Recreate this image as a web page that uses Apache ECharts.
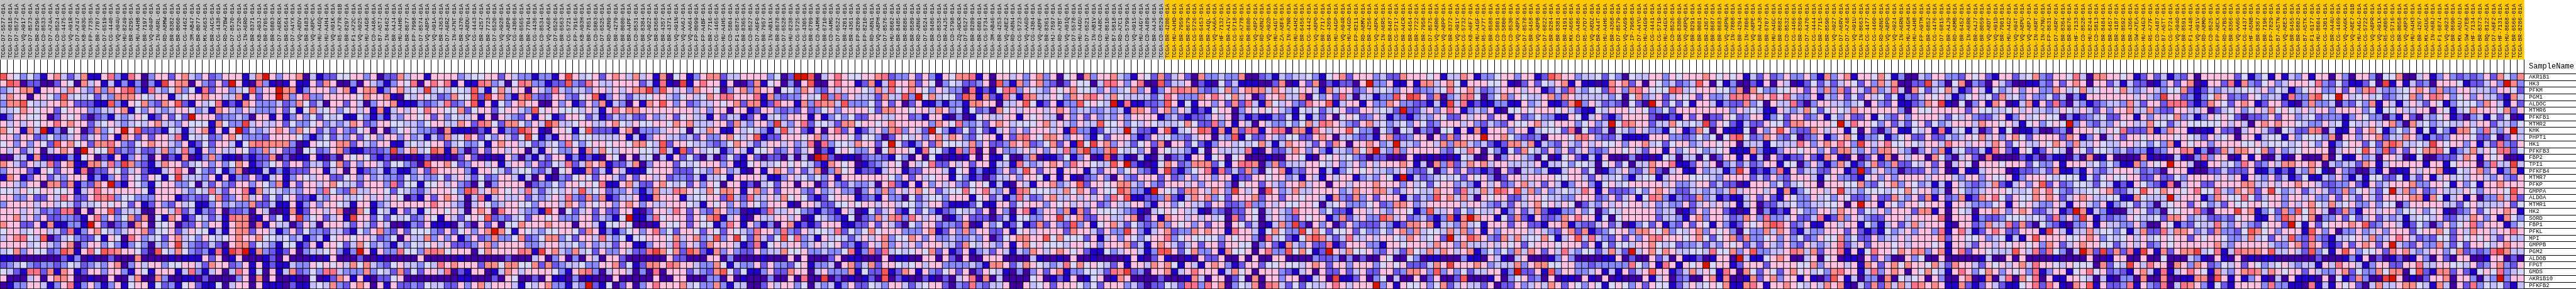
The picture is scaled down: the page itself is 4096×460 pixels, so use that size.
<!DOCTYPE html>
<html><head><meta charset="utf-8">
<style>html,body{margin:0;padding:0;background:#fff}#c{width:4096px;height:460px}</style>
<script src="https://cdn.jsdelivr.net/npm/echarts@6/dist/echarts.min.js"></script>
</head><body><div id="c"></div>
<script>
const genes=['AKR1B1','HK3','PFKM','PGM1','ALDOC','MTMR6','PFKFB1','MTMR2','KHK','PHPT1','HK1','PFKFB3','FBP2','TPI1','PFKFB4','MTMR7','PFKP','GMPPA','ALDOA','MTMR1','HK2','SORD','FBP1','PFKL','MPI','GMPPB','PGM2','ALDOB','FPGT','GMDS','AKR1B10','PFKFB2'];
const groupSizes=[173,202];
const ids0='D7-5577 D7-6818 D7-8572 VQ-A917 D7-8573 BR-8296 CD-8533 D7-A74A CD-8524 CG-4475 VQ-A91R D7-A747 KB-A93G FP-7735 BR-7707 D7-6519 CG-4440 VQ-A94U HU-8249 BR-8295 HU-A4HB BR-7197 VQ-A94P IN-A6RL RD-A8MW BR-8382 BR-8060 CG-4462 3M-AB47 BR-8077 MX-A663 BR-A4CS CG-4438 RD-A7BW D7-8570 CG-5720 IN-A6RO BR-8371 KB-A93J BR-6705 BR-6803';
const ids1='D7-A6RX BR-6564 D7-A4YX VQ-A8DV BR-8483 VQ-A8PC HU-A4GQ HU-A4H4 VQ-A91K R5-A77R-01B BR-8297 F1-A72C VQ-A925 HU-A4G8 CD-A48A B7-A5TJ IN-8462 BR-A4J4 HU-A4H0 BR-8677 FP-7998 D7-8574 VQ-A8P5 VQ-A91A BR-4363 D7-A6RZ IN-A7NT BR-4370 VQ-A8DU CG-4443 BR-4257 BR-7723 D7-6520 VQ-A928 VQ-A8P8 CG-4306 BR-6565 BR-7704 CG-4436 CD-8534 VQ-AA68';
const ids2='D7-6526 BR-6563 CG-5721 FP-7916 KB-A93H BR-7851 CD-5803 D7-6525 RD-A8N9 BR-4279 BR-8080 BR-A4PF CD-8531 BR-8384 VQ-A922 BR-8368 BR-4357 BR-4371 VQ-A91N VQ-AA6J VQ-AA64 FP-8099 FP-A4BF BR-7716 CG-4465 HU-A4H5 CD-5804 F1-6875 BR-8365 CD-8527 D7-A6F0 BR-7957 IN-AB1X BR-8678 D7-6528 HU-8238 CG-5725 CG-4305 BR-6709 CD-A4MH BR-6710';
const ids3='CD-A4MG D7-6522 BR-4201 BR-4361 FP-8209 FP-8210 RD-A8N1 VQ-A8PH D7-8576 HU-8602 BR-8485 BR-8686 BR-8589 RD-A8N6 D7-6524 BR-8486 CD-8535 BR-A4J5 CD-5798 ZQ-A9CR D7-6527 BR-8289 BR-6801 CG-5734 3M-AB46 BR-4253 VQ-A8E2 RD-A8N4 CG-5723 VQ-AA6D CG-4304 VQ-A8PF BR-8361 HJ-7597 RD-A7BT VQ-A91Q D7-5578 HU-A4GU D7-6521 IN-AB1V CD-A48C';
const ids4='HU-8610 B7-5818 RD-A7C1 CD-5799 VQ-A91S HU-A4GY CD-A489 BR-A4J6 CD-8529 BR-4280 HU-A4HD BR-7959 BR-8679 CG-5726 BR-6453 BR-A4QL VQ-AA6A HF-7132 BR-A4IV CG-5718 R5-A77B BR-8680 VQ-A8P2 RD-A8N2 VQ-A92D HU-A4GT ZA-A8F6 IN-A7NR HU-A4H2 BR-6456 CG-4442 VQ-A8PO BR-7717 BR-4369 HU-A4GP VQ-A94R HU-A4GD FP-8211 RD-A8MV BR-4256 VQ-A8PK';
const ids5='IN-A6RS BR-8487 CG-5717 BR-A4CR BR-6454 BR-7722 BR-7958 D7-8575 VQ-A8R0 VQ-A8PP BR-8372 VQ-A91Y CG-5732 KB-A6F7 HU-A4GF R5-A77T BR-8588 CD-5801 CD-5800 CD-8530 VQ-A8PX D7-8578 BR-6458 VQ-A8PB D7-6822 BR-8284 BR-8381 BR-4191 MX-A666 CD-A486 R5-A7O7 VQ-A8DZ BR-A44T HU-A4H6 BR-4368 D7-8579 VQ-AA69 IP-7968 D7-A4YU HU-A4G9 CG-4441';
const ids6='CG-5719 HU-A4GX CD-8526 BR-8380 VQ-A8PQ BR-8291 BR-8081 BR-4367 BR-8687 BR-8683 VQ-A8PN IN-7808 BR-4294 IN-7806 VQ-A8PE BR-A4J8 BR-6707 HU-A4GC BR-8682 CD-8532 CG-4466 BR-8369 D7-A470 CG-4444 BR-7715 BR-8590 VQ-A927 D7-A6RV D7-A748 VQ-A91U IN-8663 CG-4477 CG-4460 RD-A8N5 VQ-A8PD VQ-A924 IN-A6RN HU-A4GH HU-A4H8 FP-A9TM BR-6852';
const ids7='CG-4476 D7-6815 BR-A4J9 RD-A8MB BR-6452 IN-A6RR BR-A4J7 BR-8059 VQ-A8DT VQ-A91D BR-7901 HU-A4G2 VQ-A94T VQ-A8PU VQ-A8PJ IN-A6RT IN-A7NU FP-8631 D7-A6RY BR-8364 BR-8676 HF-7133 CD-8528 HU-8244 CD-5813 BR-8484 BR-6457 BR-4187 BR-8592 BR-4366 SW-A7EA HU-A4G3 R5-A77F CD-A487 B7-A5TT CG-5724 VQ-A94O BR-8591 F1-A448 VQ-A91V RD-A8MO';
const ids8='CD-8525 FP-A8CX RD-A7BS BR-8366 VQ-AA6G CG-4437 HF-A5NB BR-8367 BR-7196 FP-7829 B7-A5TN VQ-A8E3 BR-6455 BR-6802 B7-A5TK F1-6177 HU-8604 CG-4301 BR-A44U CG-4469 VQ-AA6K VQ-A8E7-01B HU-A4GJ CG-5722 VQ-A8PR VQ-A91X R5-A805 CG-5716 BR-8058 VQ-A8P3 HU-A4H3 BR-4267 MX-A5UG IN-A6RJ F1-6874 VQ-A923 BR-8690 MX-A5UJ SW-A7EB HF-7134 BR-8373';
const ids9='RQ-8122 D7-A6F2 HF-7131 HU-8608 BR-6566 BR-8286';

// colour level of each cell, 0 (dark blue) ... b (red); one string per gene row, one array per run of columns
const heat0=[
"9 6 5 3 5 3 1 6 7 4 2 4 7 1 1 6 8 3 1 8 6 0 3 6 6 2 6 7 4 3 6 2 3 6 6 6 1 4 7 b 6",
"6 9 8 0 2 2 0 0 2 6 5 0 7 4 6 1 4 1 3 1 3 0 3 1 a 6 7 7 0 6 3 2 6 2 b 6 1 0 8 3 1",
"3 4 6 7 7 1 6 6 6 4 7 6 4 3 7 3 7 6 8 9 3 1 8 4 3 5 7 3 5 1 8 2 6 6 3 4 5 9 3 6 6",
"4 7 6 6 0 6 6 5 3 9 4 5 4 5 2 4 3 7 7 7 6 5 4 6 6 1 4 5 6 6 7 6 6 4 4 7 1 6 2 6 6",
"3 7 7 9 5 4 4 6 6 7 6 2 2 2 1 1 9 3 1 6 5 7 3 2 7 6 9 2 1 6 4 5 8 1 2 1 7 6 3 3 3",
"4 4 5 7 6 5 6 6 2 5 6 6 6 3 3 4 4 6 7 1 5 3 6 4 3 4 6 6 5 3 4 1 7 6 4 3 6 4 3 3 3",
"1 3 6 6 5 5 6 0 2 6 5 6 2 0 2 3 1 4 3 4 6 5 1 2 6 2 5 2 b 6 6 6 2 3 3 4 3 0 6 6 1",
"6 4 6 4 6 5 6 6 8 6 7 6 6 2 4 5 6 4 3 4 5 4 6 7 4 4 3 6 5 5 5 1 7 5 3 3 a 4 6 4 4",
"7 5 6 1 7 4 b 1 3 0 5 6 0 2 7 3 5 6 b 6 9 2 2 2 1 5 4 1 4 6 7 1 6 1 6 b 2 4 3 4 6",
"6 6 3 6 6 2 3 5 3 3 4 6 2 4 6 3 6 1 7 6 2 6 2 6 6 4 8 1 5 4 5 2 3 6 7 5 3 3 3 2 6",
"5 6 3 6 3 6 5 2 9 6 7 5 6 2 7 7 8 6 3 2 5 6 7 6 6 4 3 6 1 2 5 2 6 6 4 1 5 7 8 7 7",
"6 4 6 2 4 6 0 4 6 7 6 0 b 6 5 5 9 2 3 2 4 2 2 4 7 3 4 8 3 1 6 3 6 4 4 6 5 2 3 7 4",
"0 0 4 4 1 7 1 0 1 1 3 1 5 6 0 2 1 6 1 3 6 3 0 6 0 2 1 7 0 1 3 7 3 1 1 0 2 1 2 2 7",
"7 6 4 2 6 4 4 8 2 6 7 1 1 7 7 4 8 3 a 7 3 2 1 4 7 6 6 2 4 5 6 3 6 3 5 7 6 1 2 3 5",
"3 6 6 6 2 1 6 5 2 6 6 1 8 0 2 2 6 5 2 4 6 2 1 1 4 6 8 6 0 5 3 2 5 1 3 7 0 1 1 4 1",
"1 7 6 1 2 6 6 2 4 3 6 6 6 1 3 1 3 6 2 6 5 2 6 5 1 5 a 4 4 4 3 6 1 6 1 3 2 6 2 1 4",
"6 6 4 3 6 6 0 7 7 2 7 1 3 2 7 6 b 2 1 6 5 3 1 5 6 6 3 3 5 0 4 2 6 3 2 6 6 3 6 5 3",
"5 5 4 6 5 5 6 6 5 5 6 1 4 6 8 6 6 6 6 6 6 5 1 6 6 6 6 4 3 5 4 8 4 2 6 6 8 1 7 4 5",
"6 6 3 3 6 2 2 6 4 8 6 2 2 6 8 7 8 3 5 5 3 3 3 6 6 6 1 2 3 2 2 5 7 2 3 6 7 4 6 2 5",
"3 6 6 6 6 4 6 6 4 5 4 2 4 4 5 6 5 6 5 2 6 1 2 6 3 2 6 4 5 1 1 3 6 3 4 3 3 7 2 2 4",
"6 6 6 4 6 4 2 3 2 8 8 0 6 0 6 6 9 2 4 4 4 0 0 6 6 4 8 2 4 1 3 2 6 0 2 2 3 0 6 4 0",
"6 6 7 4 6 3 6 2 2 3 3 2 1 6 8 3 6 3 5 7 2 7 0 5 1 7 6 1 2 5 4 2 4 1 8 7 7 0 1 6 2",
"7 6 6 2 2 6 1 7 1 1 3 3 1 b 6 2 0 2 3 0 7 6 0 5 5 6 0 2 2 6 3 6 6 1 6 7 7 0 8 1 6",
"5 6 6 4 5 6 6 4 4 2 8 1 3 6 7 5 4 3 4 6 6 7 2 5 5 6 2 4 6 5 5 1 4 1 6 7 7 2 6 6 4",
"4 6 7 8 5 4 9 0 2 4 5 3 2 2 5 1 6 5 0 8 6 3 4 5 2 6 7 4 5 3 6 5 4 5 6 7 6 6 7 5 5",
"6 6 6 6 4 5 6 4 3 6 7 0 3 6 6 3 5 3 1 3 5 3 0 4 3 6 a 4 3 2 2 4 2 0 6 7 7 2 5 4 3",
"4 5 7 3 6 5 5 2 3 9 7 1 6 8 5 9 8 7 6 6 5 2 0 9 5 4 7 5 3 2 3 1 8 1 a 8 b 1 7 3 2",
"1 1 0 0 0 0 0 0 0 2 1 3 0 1 0 0 2 0 0 0 7 0 0 0 0 1 0 1 1 1 6 2 6 0 1 6 0 0 0 1 2",
"2 3 4 5 3 2 3 3 2 3 5 4 2 3 4 3 6 7 0 3 6 4 6 6 3 5 5 6 6 4 2 7 6 6 2 3 6 1 6 1 2",
"5 4 2 1 8 8 2 7 1 7 6 1 2 6 6 3 6 6 3 1 6 5 1 6 6 6 1 4 8 3 1 4 6 0 4 8 6 1 5 0 6",
"6 0 0 0 4 6 0 6 7 7 6 0 0 1 0 0 6 0 0 4 7 0 0 7 3 0 0 1 1 0 2 0 0 0 0 3 6 0 7 0 6",
"0 1 3 3 6 6 4 1 3 6 8 1 3 6 3 1 3 6 1 5 6 6 1 5 2 3 1 5 6 2 1 1 5 0 4 6 6 0 6 1 1"];
const heat1=[
"3 6 6 7 0 4 1 2 2 5 5 6 6 3 6 0 2 2 7 4 6 6 1 6 6 6 6 3 4 5 5 6 6 2 6 4 3 3 1 3 3",
"0 1 6 1 1 6 2 7 6 0 0 3 0 6 4 3 1 3 6 5 8 0 6 8 6 8 1 6 1 1 8 7 3 4 0 5 8 7 3 3 1",
"b 7 7 1 3 6 6 6 3 6 7 1 6 7 7 1 3 6 7 4 5 4 a 4 5 4 5 5 4 9 4 1 5 7 4 6 6 0 6 4 3",
"b 7 3 6 8 3 3 6 6 6 6 6 5 7 6 6 7 1 0 5 4 6 5 4 2 3 7 5 5 9 2 a 6 7 3 1 7 9 3 2 2",
"4 2 3 7 5 2 4 0 6 6 2 6 4 0 3 6 6 7 1 1 1 3 2 3 4 8 2 3 6 9 1 6 1 5 3 6 7 6 6 0 0",
"6 2 5 1 5 7 4 5 6 3 5 6 4 6 1 7 1 4 6 4 6 5 8 6 6 5 5 7 2 5 6 6 2 5 6 6 4 3 9 5 6",
"6 1 3 6 3 5 2 5 4 5 1 1 5 3 1 3 1 4 3 6 6 5 6 2 6 3 5 4 4 6 1 6 0 6 4 3 2 6 1 6 5",
"6 2 5 3 3 5 6 3 4 3 4 7 6 2 3 6 6 5 5 4 4 3 5 6 6 4 4 7 6 2 8 7 5 2 7 7 5 3 6 4 a",
"7 6 3 7 5 6 2 4 2 6 3 2 5 6 0 6 0 3 5 6 4 3 3 2 0 7 1 1 1 0 2 1 6 1 3 2 a 8 6 1 0",
"6 6 6 5 3 1 3 5 2 4 3 6 2 5 6 3 6 6 3 6 3 4 1 4 2 7 4 5 8 6 2 5 3 6 4 2 5 a 5 1 3",
"7 7 3 0 1 6 5 5 6 7 7 2 6 4 3 6 6 1 1 4 5 4 5 6 6 2 4 5 3 3 5 1 6 7 6 6 4 5 2 3 4",
"6 2 2 0 5 5 2 3 6 7 2 1 1 2 2 2 3 a 3 6 7 4 5 9 7 1 7 3 0 2 6 2 6 6 4 6 6 0 4 1 6",
"0 2 0 1 1 6 1 0 2 0 6 5 6 5 2 1 2 0 0 1 0 1 2 0 0 1 0 2 6 2 0 1 0 1 6 3 0 3 1 4 2",
"6 2 6 6 2 4 4 2 5 7 2 6 3 6 6 4 2 5 5 3 2 0 9 6 6 7 5 2 3 6 6 4 6 1 4 6 6 3 6 2 2",
"3 1 2 2 2 6 6 1 4 6 0 6 1 2 3 4 1 3 1 1 3 6 2 8 6 6 6 6 3 1 6 6 5 4 2 4 5 5 3 2 4",
"6 1 3 6 5 4 6 6 2 2 5 6 3 6 3 4 3 3 2 5 3 4 3 3 5 2 4 6 4 2 5 2 3 6 6 4 1 4 0 6 1",
"7 1 6 2 6 6 4 6 7 5 4 4 2 6 6 6 3 8 2 5 5 1 5 5 6 4 6 3 2 0 5 0 3 6 6 6 6 0 2 3 3",
"4 3 4 3 6 6 3 8 5 3 2 7 4 4 6 6 5 2 5 4 3 2 4 6 6 6 5 3 9 8 4 6 7 6 5 6 4 8 4 2 4",
"2 5 6 2 2 1 4 3 6 6 4 4 5 6 4 6 4 6 5 0 2 1 6 2 6 7 6 4 0 4 8 1 4 6 4 4 6 2 4 3 4",
"1 1 6 1 3 6 3 6 6 5 4 1 6 6 1 3 4 6 6 6 6 6 6 8 6 6 4 3 0 4 6 5 3 4 6 6 5 5 3 6 6",
"0 1 7 1 2 6 6 4 6 7 0 0 7 5 1 5 4 1 6 2 4 1 5 6 6 5 6 4 0 6 7 6 0 8 6 6 4 3 3 1 a",
"5 1 6 a 3 5 6 2 4 6 1 a 6 6 2 5 2 5 4 5 2 3 6 5 1 6 4 2 5 6 5 9 2 3 2 4 5 2 6 6 5",
"4 4 0 2 6 4 0 6 6 6 4 2 6 4 2 6 4 0 0 1 3 2 6 1 1 1 0 4 2 0 6 2 6 0 5 5 7 6 6 6 7",
"1 3 6 2 5 3 3 2 4 4 2 1 5 3 6 7 3 2 6 2 5 5 5 3 2 6 2 5 6 3 6 7 b 7 5 1 6 5 4 3 5",
"4 5 3 4 1 3 4 1 5 6 6 5 6 6 4 2 3 5 0 6 4 4 7 3 6 3 6 1 3 6 2 3 7 3 3 5 7 2 3 5 7",
"1 5 5 1 2 6 1 6 6 5 2 4 7 5 3 4 3 1 4 3 5 4 5 6 4 6 2 2 2 3 6 7 3 6 6 6 6 3 3 4 6",
"1 2 6 0 3 4 4 5 6 3 1 3 b 6 1 6 3 3 8 5 5 3 7 8 7 5 6 6 6 0 5 7 6 6 6 6 8 7 1 a 6",
"0 6 0 0 0 1 0 1 6 0 0 0 2 0 0 1 0 0 0 0 0 6 0 0 0 0 0 1 0 0 0 0 0 0 2 0 0 0 4 6 0",
"1 1 4 3 3 6 5 6 5 6 4 7 5 7 4 3 2 5 6 4 4 3 5 4 8 6 7 6 6 6 2 7 7 5 7 7 5 5 7 2 7",
"1 4 7 2 3 5 3 8 8 4 3 3 3 7 3 5 4 2 7 2 5 2 6 6 4 8 0 2 1 6 6 0 1 4 7 6 4 6 6 6 6",
"0 0 1 0 0 5 0 1 2 7 6 1 6 1 0 2 2 5 6 0 0 0 0 0 0 0 0 1 1 0 0 0 2 0 6 5 0 0 2 0 6",
"1 0 2 1 1 4 5 4 7 3 2 6 7 6 0 6 1 6 2 2 3 2 5 4 4 2 2 6 3 6 7 4 6 6 6 4 1 5 4 6 7"];
const heat2=[
"1 6 a 6 4 5 6 2 6 7 6 4 7 4 6 1 7 0 5 6 1 3 6 7 7 2 4 4 6 6 6 6 3 5 0 2 b b 9 0 4",
"2 2 9 3 2 8 6 4 4 6 6 6 6 2 4 1 8 1 0 a 1 6 8 6 6 1 6 0 0 2 7 1 5 6 0 3 0 6 9 0 0",
"8 4 3 4 4 3 6 6 4 6 4 6 7 7 a 3 9 6 4 6 3 7 6 6 5 0 3 6 7 3 7 6 6 0 5 5 3 7 6 3 2",
"6 6 3 2 5 6 9 1 3 6 4 2 4 4 5 6 6 4 3 5 6 4 5 7 6 8 8 6 6 6 8 1 7 3 2 3 3 6 4 5 a",
"6 3 6 1 2 6 3 7 1 4 3 0 6 1 7 6 9 6 3 6 2 3 4 4 6 5 6 7 2 7 7 1 2 8 6 6 1 7 3 8 7",
"6 5 5 5 4 6 4 1 6 8 6 7 7 6 6 6 6 6 6 6 6 4 6 3 6 6 0 6 6 1 2 6 6 3 2 3 2 6 2 3 5",
"1 2 6 6 5 2 4 1 2 4 3 4 2 2 6 3 4 6 2 5 6 4 4 1 6 2 4 4 1 2 6 1 4 5 3 6 6 6 1 6 1",
"7 4 4 5 6 6 4 4 6 7 5 4 6 5 5 6 6 5 7 6 7 4 4 4 6 6 2 7 4 3 6 6 3 a 4 3 6 8 2 5 5",
"6 6 5 1 5 9 2 2 2 1 6 7 0 3 3 3 4 6 6 5 0 5 4 7 6 1 1 6 4 5 4 3 1 4 9 4 6 2 1 6 0",
"1 6 6 3 5 5 4 4 4 4 6 1 4 1 3 6 6 4 4 3 4 2 6 3 3 6 7 5 4 6 9 1 2 2 6 6 6 5 6 7 3",
"5 3 8 5 3 5 6 6 5 6 6 5 7 7 5 4 9 2 6 6 5 4 4 3 2 3 5 7 6 4 2 4 6 6 4 6 3 4 8 0 8",
"5 3 3 6 1 7 4 7 5 4 6 6 6 5 5 4 9 4 1 9 2 6 4 5 5 1 3 6 4 1 5 5 6 2 3 6 2 4 6 0 2",
"6 6 1 3 1 2 1 0 6 5 0 6 0 4 5 0 4 1 6 2 5 2 0 4 0 2 5 2 1 6 2 0 2 2 0 4 0 4 0 b a",
"5 4 8 2 4 7 6 7 1 2 2 4 7 0 3 6 6 6 2 5 4 5 6 6 6 3 6 1 1 5 6 4 4 5 6 5 6 5 4 2 1",
"0 5 6 1 1 7 2 4 1 6 4 1 1 1 5 6 6 6 2 2 2 5 4 3 7 6 3 4 1 0 6 1 6 7 6 3 6 2 4 7 0",
"0 3 2 5 6 5 2 6 6 4 2 6 2 6 6 4 6 2 3 3 2 4 1 4 4 5 1 6 6 6 6 4 1 1 3 6 4 5 3 5 3",
"5 3 6 6 5 6 5 8 1 1 6 7 4 2 2 6 7 5 4 5 2 6 3 6 5 0 6 6 1 2 0 4 5 2 6 6 0 6 6 0 2",
"5 4 6 4 9 4 5 6 2 3 3 6 3 1 3 7 4 4 8 7 6 5 4 7 5 7 7 6 1 6 7 3 6 2 6 6 6 3 2 6 3",
"6 4 8 3 2 7 3 7 1 2 4 4 6 1 1 7 6 6 6 1 4 5 5 6 6 2 9 4 2 8 4 4 6 4 7 5 6 5 2 1 2",
"6 4 7 6 3 6 5 6 6 3 6 7 6 3 6 4 4 6 6 6 5 4 1 6 5 6 3 6 3 6 5 3 6 6 6 1 0 6 6 4 2",
"6 0 5 2 4 6 2 6 2 2 6 6 1 0 2 6 6 4 8 6 2 6 3 2 7 6 3 3 0 1 1 2 8 4 4 6 5 3 2 1 3",
"6 3 3 3 6 6 2 4 3 1 5 b 1 1 3 8 5 6 6 6 2 6 5 7 9 1 4 6 1 0 6 4 4 6 6 4 6 0 1 5 4",
"6 6 6 0 6 6 4 1 5 5 6 5 0 0 0 1 6 5 5 6 2 6 5 5 1 3 8 6 1 6 3 1 3 0 6 7 1 2 1 2 6",
"5 6 6 5 2 7 6 1 3 1 3 5 6 3 6 8 3 5 2 6 6 5 2 6 5 2 6 5 4 3 8 6 6 3 8 3 2 6 4 5 5",
"7 3 5 2 6 6 4 8 4 3 5 1 5 5 6 6 6 5 7 4 6 7 3 4 9 3 6 a 5 2 7 4 2 5 9 5 8 3 4 1 6",
"6 4 4 5 3 6 3 4 4 2 6 6 1 1 3 6 6 4 8 3 6 4 2 7 6 6 6 4 1 2 8 1 5 6 4 6 6 3 4 6 4",
"7 4 3 7 4 5 2 6 3 3 6 4 2 2 8 a 7 5 7 2 9 7 2 1 7 3 6 3 2 2 6 3 4 4 7 5 5 6 3 3 4",
"3 6 0 3 0 6 4 0 6 6 2 0 0 0 0 0 0 6 2 2 0 0 0 6 6 0 3 0 0 0 0 1 0 0 0 6 0 6 0 0 0",
"2 3 4 4 5 3 3 6 6 7 2 5 1 2 7 7 6 8 7 6 6 4 3 3 7 5 1 4 3 3 6 2 6 3 3 2 5 6 1 3 3",
"5 3 1 6 7 8 3 0 4 6 6 4 0 3 0 8 0 6 6 6 2 4 3 2 7 9 5 2 5 1 1 3 6 2 2 7 6 6 0 4 6",
"1 1 0 3 0 1 0 0 0 6 0 0 0 0 0 6 0 0 6 6 0 0 0 3 3 0 6 0 1 0 0 0 3 0 0 6 0 8 0 0 a",
"3 3 1 4 3 b 2 1 5 0 2 6 0 3 6 8 6 6 6 7 4 5 3 3 7 3 1 4 4 0 0 2 6 4 6 6 3 5 0 4 3"];
const heat3=[
"6 8 6 5 5 6 6 7 8 2 3 3 6 2 6 3 1 6 5 7 7 8 1 6 0 6 6 4 6 3 6 7 3 6 0 5 6 0 7 3 6",
"6 8 6 6 1 2 7 1 4 9 6 6 7 2 6 5 0 3 5 4 2 2 3 6 0 9 3 1 7 3 6 7 3 2 0 2 6 5 5 0 4",
"6 4 6 6 6 5 4 7 4 8 5 6 7 6 5 3 6 4 3 3 0 8 1 2 1 5 8 8 3 6 5 4 3 6 5 6 7 5 5 4 3",
"3 8 3 6 4 4 4 2 7 4 4 9 3 b 5 7 4 5 5 2 9 7 1 7 2 1 8 4 1 8 7 4 4 6 5 3 7 6 7 8 6",
"7 4 9 3 3 3 5 2 6 2 6 0 2 6 1 1 3 1 3 3 1 7 7 6 6 0 4 4 6 9 5 1 2 6 1 3 3 9 5 6 5",
"6 3 6 6 6 6 5 2 7 7 6 6 5 6 6 4 7 6 3 4 1 5 2 3 0 7 5 6 4 6 6 6 4 6 7 6 3 4 4 3 3",
"3 5 3 5 2 2 6 6 4 4 6 6 2 3 1 6 6 1 0 3 0 1 5 6 4 4 6 6 1 6 5 6 4 4 0 6 3 6 2 6 3",
"4 2 7 7 5 6 6 5 6 7 6 6 6 6 6 3 7 6 5 8 3 3 4 2 6 7 6 4 5 5 5 6 7 4 6 4 3 6 4 4 9",
"6 8 2 6 1 2 4 6 3 7 8 3 6 4 2 b 5 3 1 2 5 2 5 2 1 4 6 3 6 3 6 6 6 4 6 1 9 3 3 1 2",
"6 6 6 5 2 5 5 3 0 2 6 5 4 6 3 6 7 4 7 6 3 2 5 6 6 1 6 2 7 8 6 5 7 7 6 3 6 6 3 1 5",
"3 5 5 4 7 6 6 2 5 b 5 2 1 3 6 2 7 5 5 5 4 7 3 6 2 2 3 7 6 7 2 3 5 7 2 6 1 a 5 a 6",
"1 5 6 5 3 3 6 0 5 7 6 6 5 1 8 5 5 2 1 8 3 8 0 6 0 6 3 3 4 6 4 6 3 6 4 8 3 7 a 3 3",
"2 0 1 1 0 2 3 3 2 1 5 3 0 6 0 5 1 0 1 0 1 6 0 6 1 1 5 0 0 3 7 0 1 1 2 5 1 3 6 0 1",
"7 6 5 6 0 1 2 3 4 6 5 0 6 4 5 8 2 2 6 4 6 2 6 6 1 4 4 1 8 4 3 4 6 7 6 3 8 6 6 5 4",
"3 7 5 6 1 2 2 1 4 6 6 1 2 2 6 6 6 4 1 5 6 1 3 1 1 3 6 2 4 9 6 2 6 6 1 6 6 6 1 4 2",
"6 1 6 6 6 6 6 6 6 5 3 6 2 6 4 5 6 6 1 5 3 1 2 0 2 4 4 6 3 6 6 5 1 6 1 6 1 0 2 3 6",
"6 3 2 4 3 3 4 0 6 8 2 1 6 1 6 3 6 4 6 3 2 5 6 5 1 4 1 0 6 4 1 6 6 7 3 4 6 9 2 6 6",
"4 6 3 3 0 3 6 3 7 3 6 4 6 7 5 6 2 4 5 5 8 5 6 8 4 3 6 1 8 7 5 5 5 4 4 7 5 7 6 2 6",
"5 6 6 6 1 2 3 1 6 3 3 0 5 2 4 5 5 3 6 6 6 1 5 6 2 4 1 3 8 4 2 3 6 7 4 4 6 4 6 4 6",
"2 5 5 6 5 6 6 4 6 6 4 5 5 3 4 6 6 2 1 1 1 2 5 1 1 6 6 2 5 6 6 6 3 6 5 6 4 6 4 6 2",
"2 1 6 4 0 1 5 2 4 6 2 1 5 2 5 3 1 2 3 5 4 4 2 6 0 6 3 0 6 8 1 3 6 6 3 7 1 7 2 6 5",
"3 2 1 5 0 2 3 7 4 7 8 3 8 6 4 6 4 0 1 3 6 2 2 2 0 2 4 1 5 5 3 3 6 6 a 4 6 7 2 2 6",
"6 6 1 1 2 2 6 2 6 4 2 0 5 3 6 6 2 3 3 2 7 0 1 6 3 5 1 2 5 1 2 7 2 6 3 2 9 3 6 1 5",
"4 8 2 5 3 5 7 5 6 6 6 3 3 3 6 7 1 2 6 3 7 3 6 6 2 2 6 1 5 6 4 6 6 6 6 2 7 6 6 4 2",
"4 5 4 2 4 6 4 6 7 3 5 5 7 6 3 6 3 3 4 3 3 4 3 6 0 2 5 6 7 7 6 6 9 5 7 5 5 5 2 6 1",
"5 6 2 3 1 2 6 4 7 3 6 4 6 3 6 6 6 4 4 2 7 5 4 6 4 3 6 1 6 7 5 6 5 5 5 4 6 6 5 6 3",
"3 3 5 8 1 3 8 2 8 4 5 4 5 6 5 7 2 6 1 2 6 1 3 4 2 6 4 1 4 3 7 6 4 6 7 6 5 6 2 1 1",
"2 6 0 1 1 0 0 0 6 0 1 1 0 0 6 6 0 6 2 0 6 0 0 6 6 6 0 0 0 0 4 1 0 0 1 0 6 0 0 1 0",
"4 0 6 7 2 4 7 2 6 6 5 4 5 6 4 6 6 3 3 3 3 4 3 1 7 7 6 2 4 7 6 5 4 3 4 8 5 7 5 6 5",
"3 3 3 7 1 5 2 2 9 1 2 7 6 1 6 3 2 5 6 2 6 0 2 6 5 4 1 0 3 0 3 6 2 6 7 1 3 3 5 5 4",
"0 2 0 1 0 1 2 0 9 0 2 1 0 0 2 1 0 2 0 4 6 8 0 7 0 4 0 0 0 0 5 6 0 1 2 1 6 0 1 5 6",
"4 1 3 6 2 2 5 4 3 6 6 4 2 4 5 6 6 2 0 3 2 8 3 2 4 4 6 0 0 6 4 5 6 2 6 6 6 5 3 5 2"];
const heat4=[
"6 7 4 3 1 6 5 2 7 2 4 6 2 0 7 3 3 4 3 3 7 0 0 2 3 1 4 3 4 4 5 3 1 5 6 7 2 6 6 6 3",
"8 8 6 3 6 8 0 0 9 2 4 4 6 0 2 1 0 5 2 4 1 1 1 0 0 2 7 0 1 6 2 7 0 2 1 2 2 0 6 b 3",
"6 3 4 5 7 3 6 1 3 6 7 8 7 7 3 2 3 5 7 3 6 7 7 7 4 7 6 4 5 6 6 4 1 7 4 6 6 2 3 6 4",
"4 7 5 4 4 4 4 2 4 8 6 3 3 3 7 6 8 6 5 7 4 6 0 2 6 6 7 4 4 7 0 5 3 6 2 8 4 0 4 4 1",
"4 b 1 8 1 1 2 2 3 9 6 1 5 1 6 6 3 6 2 7 2 8 4 1 7 5 4 6 3 2 8 6 6 9 1 4 6 6 1 6 3",
"4 3 4 1 7 7 6 2 6 7 3 6 4 1 2 1 5 6 6 0 3 6 5 6 5 6 4 3 1 5 4 5 2 4 5 6 2 2 6 6 4",
"4 3 6 3 6 6 6 6 1 3 4 2 1 2 2 3 6 4 6 0 3 1 2 1 1 3 2 5 1 5 1 4 2 6 0 5 6 5 2 3 6",
"5 5 6 3 5 4 6 5 4 4 4 5 7 5 2 2 8 3 6 1 6 4 0 6 4 3 3 5 3 5 7 4 8 7 6 4 3 2 6 7 4",
"5 4 4 b 4 2 2 1 6 9 1 4 5 6 9 8 1 7 1 7 2 8 8 1 6 8 8 0 7 7 1 8 6 4 6 6 9 5 3 3 0",
"2 6 6 6 3 1 2 6 4 5 3 3 2 4 6 6 0 4 3 9 1 5 2 2 6 4 3 5 5 2 2 6 7 6 0 4 4 3 2 3 1",
"7 3 6 4 2 5 6 2 7 0 6 6 2 5 2 1 3 6 6 4 5 4 5 7 4 1 4 7 6 6 4 2 6 2 7 6 0 6 6 7 6",
"7 9 5 4 5 3 6 0 6 5 4 4 3 1 5 0 6 4 4 4 4 8 1 0 6 2 2 4 7 6 3 6 3 1 4 4 3 7 5 7 b",
"9 0 3 1 0 4 1 0 4 0 2 3 1 6 6 1 5 6 0 5 6 0 0 0 1 0 0 6 6 5 1 0 6 5 6 4 5 3 2 0 2",
"4 9 6 b 2 1 0 1 5 7 6 2 3 7 7 7 2 5 1 6 8 8 7 0 3 7 2 4 4 4 6 6 5 4 6 3 4 6 3 6 4",
"6 6 3 5 6 3 2 1 6 a 2 1 3 5 6 8 1 8 2 4 2 7 3 0 5 6 7 1 3 2 6 6 1 4 1 3 5 6 5 6 4",
"3 0 6 3 2 6 6 6 2 6 2 3 6 3 6 6 3 6 6 1 2 2 6 6 5 6 6 3 4 1 6 4 1 6 4 6 6 1 3 4 3",
"5 6 7 7 4 3 6 3 2 6 6 6 4 6 3 6 6 6 3 0 5 6 6 2 6 4 3 6 6 7 4 6 6 0 6 6 4 6 6 6 7",
"5 5 9 7 3 3 1 b 6 5 4 2 7 7 6 4 7 6 3 a 6 4 6 0 9 6 3 4 7 4 4 6 6 6 6 3 4 7 6 6 7",
"3 8 6 9 1 1 2 2 3 7 2 1 4 7 6 7 3 5 2 6 6 6 7 2 6 6 2 6 6 5 6 6 4 1 7 3 2 7 3 6 2",
"3 6 4 4 6 6 3 1 6 6 3 5 6 4 4 2 6 6 2 2 3 8 3 3 6 4 6 5 5 6 6 5 0 4 5 6 3 3 3 5 6",
"5 5 4 3 2 1 0 4 5 6 5 6 4 4 1 0 3 2 0 2 2 6 5 0 4 6 4 3 8 6 6 6 3 5 2 2 1 6 6 4 6",
"6 4 4 6 7 0 2 6 1 7 6 6 4 6 4 6 4 5 0 8 2 6 5 0 4 6 4 3 2 6 5 6 6 1 3 7 2 4 6 3 3",
"6 7 4 2 5 3 2 3 7 3 6 5 6 3 6 2 6 6 0 6 5 2 4 0 1 4 7 3 a 2 0 6 3 6 0 2 6 3 2 2 2",
"6 3 3 a 6 3 1 4 6 7 2 3 3 7 6 7 6 6 1 8 6 6 4 1 5 7 5 3 3 a 5 7 5 2 5 5 6 2 5 3 3",
"4 6 3 6 5 3 5 6 6 8 3 5 6 5 5 5 5 3 6 5 6 6 3 0 8 4 5 2 1 5 7 9 7 4 2 4 8 4 4 6 4",
"6 6 6 7 2 4 1 6 7 6 4 2 4 6 2 6 6 2 6 6 5 5 0 3 6 2 1 7 4 3 6 2 2 8 1 2 6 6 6 3 3",
"5 3 4 6 6 4 1 3 9 9 6 2 5 7 3 3 6 1 7 5 5 6 0 6 8 3 3 9 5 7 5 1 2 b 6 4 7 5 5 6 3",
"0 0 0 1 6 1 0 2 6 1 0 0 1 0 6 2 2 6 0 0 6 0 6 0 0 6 6 0 0 0 0 3 2 2 3 0 3 0 2 0 0",
"4 2 6 1 6 6 4 7 6 7 5 1 6 4 1 6 7 6 3 1 2 6 6 2 5 5 6 5 5 4 6 7 6 2 6 6 3 6 6 6 3",
"2 8 7 a 2 3 0 6 6 7 1 4 6 8 6 6 6 1 4 7 5 6 0 6 6 6 3 2 1 4 6 0 6 2 2 6 2 4 6 2 2",
"0 1 7 6 0 0 0 0 2 0 0 0 1 7 4 0 6 6 0 2 5 0 7 0 6 6 3 6 6 0 1 4 6 0 a 1 1 2 6 0 3",
"6 6 6 3 4 2 0 2 2 5 4 2 8 8 3 8 6 7 0 3 5 4 7 0 8 7 4 2 5 2 5 4 4 6 8 6 4 6 6 6 b"];
const heat5=[
"4 2 2 7 6 6 6 5 6 1 4 4 7 6 1 3 3 5 6 6 3 6 6 1 2 9 7 6 6 3 4 4 5 2 5 3 0 5 4 4 6",
"3 6 1 1 6 1 7 7 4 6 7 5 1 6 6 6 5 5 6 1 0 2 6 2 5 4 6 7 1 6 1 1 0 1 7 6 7 2 6 0 6",
"5 4 3 6 6 2 3 3 4 5 8 5 6 7 4 2 3 4 6 6 6 4 6 6 1 2 4 2 8 4 3 5 5 2 8 6 3 7 8 6 5",
"3 3 9 6 a 9 6 2 7 0 3 4 7 8 5 0 3 5 7 3 6 5 4 4 6 7 3 7 6 4 4 4 4 4 3 5 0 5 7 3 4",
"3 7 6 3 3 2 2 1 4 1 a 4 8 1 2 1 1 3 3 1 1 6 3 4 6 1 1 2 7 b 3 6 4 2 3 2 0 5 2 0 b",
"5 4 2 b 2 2 4 6 3 6 8 6 1 3 4 3 6 1 0 5 5 6 5 6 6 6 5 6 4 2 1 1 5 4 6 6 6 5 6 5 2",
"4 1 3 2 1 3 4 3 6 5 2 2 6 4 6 6 2 6 6 1 6 2 3 5 3 3 1 1 6 5 1 4 6 2 1 3 6 6 6 6 2",
"5 3 4 5 3 6 5 2 3 6 6 6 4 6 3 2 4 3 2 6 5 5 6 7 4 5 6 6 6 3 5 6 3 4 b 5 8 7 6 6 2",
"5 3 0 5 4 0 3 2 0 5 5 1 6 1 7 1 6 6 6 3 6 6 1 4 5 5 5 2 8 0 5 2 2 4 0 5 4 3 6 4 3",
"6 7 2 2 3 6 6 0 6 2 7 2 6 6 6 b 6 6 7 5 3 2 2 3 0 6 6 6 5 7 8 6 3 2 2 4 1 1 1 1 6",
"3 4 b 4 4 3 6 6 4 7 3 7 7 4 3 4 2 1 2 7 7 4 7 1 4 3 2 6 4 3 6 4 6 5 5 6 3 6 6 7 4",
"4 3 8 3 6 6 6 6 6 3 2 5 4 8 6 0 5 3 1 5 2 7 5 4 2 6 3 6 2 4 6 3 2 3 6 6 5 6 4 2 6",
"2 0 0 0 6 1 0 1 0 1 0 1 5 4 0 0 6 0 3 6 6 4 3 0 5 0 1 5 6 2 1 4 1 6 0 0 0 3 0 1 0",
"6 6 6 7 6 1 4 0 7 3 8 2 4 7 6 7 4 6 6 4 4 4 4 6 1 4 4 5 3 5 5 4 0 5 6 2 5 0 4 4 7",
"4 3 4 6 3 2 2 5 0 3 6 2 6 2 2 1 2 0 6 2 0 4 4 3 4 1 1 4 6 6 2 5 0 1 3 4 6 3 2 4 7",
"6 5 1 b 1 4 2 3 4 5 4 5 2 6 5 6 3 0 2 6 6 4 6 6 6 6 5 5 6 6 4 2 6 4 4 5 3 1 4 5 5",
"6 6 6 3 6 4 5 2 5 6 6 3 4 3 1 6 4 6 2 3 6 7 4 6 2 6 4 1 3 6 6 3 1 5 6 4 5 6 6 6 6",
"7 4 2 4 6 5 4 4 7 6 6 2 8 4 4 7 4 9 8 6 9 4 7 3 6 3 4 5 4 4 8 6 1 6 2 2 2 3 5 3 6",
"6 6 6 1 4 2 4 3 9 6 7 4 7 4 0 6 5 6 6 2 2 4 6 6 5 4 4 3 3 6 6 6 2 3 6 2 4 6 1 5 8",
"2 3 7 7 6 3 4 6 6 6 6 6 4 6 6 4 3 2 4 2 6 4 6 7 5 6 4 6 5 0 2 4 3 6 4 6 5 6 6 4 6",
"4 3 6 6 5 1 3 9 4 4 6 2 5 3 5 4 4 6 1 3 6 2 4 7 2 1 1 3 3 6 3 5 0 3 5 4 6 6 6 6 6",
"9 7 4 6 2 3 4 2 1 3 9 1 7 b 7 6 6 1 5 2 7 2 1 6 2 2 3 7 6 8 6 6 1 5 0 5 6 6 6 6 6",
"4 3 1 2 7 7 6 7 1 4 4 3 7 4 5 1 6 6 6 2 6 6 2 2 1 6 6 7 1 3 2 2 4 6 2 4 0 1 3 5 2",
"5 3 6 7 3 7 4 5 5 4 7 4 7 3 6 1 6 3 6 6 6 6 4 6 4 3 2 6 7 2 7 1 2 3 5 6 6 3 7 7 6",
"6 6 5 4 7 6 4 5 6 2 b 4 6 9 7 6 3 2 7 4 7 4 5 5 7 5 1 4 6 9 4 8 4 3 2 6 2 6 3 6 7",
"1 6 6 5 6 6 6 4 7 6 6 3 7 4 4 4 6 4 6 5 6 2 5 6 6 6 5 6 6 6 2 6 1 5 2 5 5 4 6 6 7",
"2 6 4 2 7 5 4 7 4 7 6 4 6 7 1 3 5 3 5 3 7 4 7 6 2 6 4 8 4 3 5 5 2 4 7 4 2 b 4 6 7",
"6 5 0 0 5 3 0 1 1 0 0 0 3 1 1 0 6 4 1 0 4 6 0 0 0 1 3 6 3 0 0 0 0 1 1 6 0 2 0 0 6",
"5 6 5 6 2 2 2 4 7 6 a 6 6 6 7 6 3 4 4 4 7 3 6 7 7 5 5 6 6 3 3 2 3 3 3 3 3 8 5 3 6",
"6 6 2 3 7 7 6 3 9 3 6 3 5 2 4 4 6 6 1 3 b 2 2 6 1 9 3 6 6 3 3 4 6 1 4 1 6 2 4 6 9",
"5 0 4 0 0 6 0 2 6 0 0 2 9 0 0 0 1 6 0 3 5 6 2 3 0 6 0 1 1 0 6 1 0 6 0 1 0 0 0 6 1",
"3 6 1 6 5 5 6 3 5 7 2 4 6 4 4 2 6 0 2 2 6 3 4 6 4 7 6 2 6 5 3 6 5 1 5 6 5 3 6 2 6"];
const heat6=[
"6 3 6 5 6 6 6 7 6 5 6 5 6 1 4 2 6 2 3 6 3 3 6 3 1 7 3 6 7 1 6 6 5 7 5 1 3 0 0 4 3",
"5 3 4 2 3 4 9 6 0 5 1 3 0 0 2 1 6 0 6 4 0 1 2 5 2 4 2 4 6 5 2 6 3 7 4 7 0 0 2 2 a",
"5 5 9 8 4 5 6 6 6 5 5 3 7 0 7 5 3 3 5 5 6 6 2 6 3 7 3 7 2 6 4 2 7 3 4 8 4 0 7 5 2",
"6 2 4 6 5 6 2 6 3 3 4 8 7 8 6 7 6 8 6 8 4 3 3 6 1 4 3 6 2 5 2 6 4 5 2 5 1 3 2 4 6",
"6 2 5 2 5 1 6 6 4 1 3 2 2 7 3 5 0 6 4 4 8 2 0 3 6 6 4 4 3 4 5 0 6 3 2 6 1 1 2 3 7",
"3 5 2 6 6 6 6 6 6 6 6 3 6 4 5 4 1 1 6 4 3 4 7 5 2 5 6 5 4 7 6 6 6 6 6 6 3 0 6 5 5",
"0 1 2 1 6 2 6 0 2 2 6 5 2 3 6 6 1 3 5 2 6 6 2 3 6 1 5 3 6 2 2 6 1 5 3 2 6 3 6 6 6",
"4 4 7 5 4 5 4 a 2 6 5 2 1 4 2 2 6 5 5 2 7 7 6 6 6 6 5 b 4 8 6 6 5 3 6 2 4 2 5 6 2",
"3 1 5 6 1 2 7 5 0 6 1 1 1 5 0 6 3 6 9 6 3 2 2 7 6 4 6 6 1 5 0 6 2 0 3 6 1 1 5 4 6",
"6 6 3 3 2 3 5 3 5 0 5 8 9 5 2 3 7 6 3 2 5 0 2 3 6 1 3 6 7 5 1 3 3 5 1 3 5 6 2 2 6",
"5 2 5 6 6 3 4 6 6 5 6 6 0 4 4 4 1 5 4 4 4 8 6 3 6 7 6 8 6 3 a 6 4 6 8 5 5 6 5 4 6",
"6 1 6 3 5 6 5 3 4 5 6 1 1 1 7 3 1 1 3 6 6 5 6 6 3 6 2 7 7 4 3 6 3 7 7 6 4 3 0 3 6",
"1 5 4 0 4 4 0 5 0 2 6 6 1 6 1 4 0 6 2 1 2 2 6 2 1 7 6 1 0 6 0 2 6 1 7 0 6 4 6 6 0",
"6 6 8 1 1 2 6 4 6 0 3 4 2 4 2 3 6 6 1 5 5 0 3 6 3 1 3 7 4 1 2 4 7 2 3 7 2 2 5 4 6",
"2 0 4 6 1 1 6 3 4 4 1 3 a 6 1 2 1 3 8 1 6 2 4 4 2 2 6 6 1 2 b 2 4 6 3 3 0 2 2 2 6",
"1 4 6 6 6 5 5 5 4 3 6 6 6 6 2 4 2 6 3 2 6 6 6 4 1 5 6 3 3 2 1 5 6 3 6 3 6 6 6 6 4",
"6 4 6 3 3 4 6 6 2 4 2 2 0 1 6 6 6 3 5 2 4 5 6 6 0 6 6 6 5 5 7 3 2 5 6 7 3 6 5 3 4",
"7 6 4 2 2 4 4 3 4 3 4 7 4 6 6 6 4 6 1 7 1 3 5 6 6 4 6 a 4 4 3 5 5 5 4 5 5 7 5 6 6",
"7 3 1 3 2 2 7 3 4 1 2 1 1 4 6 2 6 2 1 6 5 3 3 6 4 5 3 6 5 2 2 3 6 2 2 7 4 3 6 2 7",
"3 4 3 3 6 2 4 6 4 6 4 6 1 4 6 0 2 2 4 4 5 3 3 4 4 5 5 6 0 6 b 6 6 1 6 5 3 6 6 5 6",
"3 4 4 0 1 2 6 3 6 6 2 1 0 1 6 0 3 1 2 1 6 5 3 3 6 6 4 7 6 6 2 5 4 6 3 6 6 6 2 7 7",
"2 4 4 3 1 6 7 3 6 6 4 2 3 7 6 3 8 3 3 4 6 2 2 4 8 1 2 7 3 6 4 3 2 2 6 6 6 4 6 6 6",
"6 1 3 2 6 2 6 5 1 6 3 1 2 6 5 6 7 9 8 6 2 3 6 1 1 6 6 4 6 6 1 5 3 1 4 6 2 4 7 4 6",
"5 7 3 5 4 6 7 3 6 5 6 3 0 5 3 3 7 4 7 6 2 1 4 3 3 6 6 6 2 6 2 1 2 1 5 3 4 6 3 6 6",
"8 6 6 6 5 6 7 5 2 5 6 7 2 7 3 3 5 6 3 6 3 5 2 3 6 5 5 7 3 5 2 2 6 3 4 4 6 4 6 6 6",
"5 4 5 2 3 3 4 2 4 3 6 5 6 2 4 2 6 4 3 6 3 2 6 4 3 4 6 8 2 4 6 2 6 6 6 5 6 4 6 6 6",
"5 7 6 4 4 5 5 4 8 5 5 7 3 6 9 3 3 4 4 6 8 7 4 7 2 6 6 8 1 6 1 5 8 6 6 5 7 6 7 7 3",
"2 4 0 6 1 1 2 0 1 6 6 0 b 4 1 1 5 6 7 6 0 0 4 6 0 5 6 0 1 1 0 6 2 6 3 0 0 6 3 5 0",
"1 8 6 1 6 5 6 b 5 6 6 1 2 6 6 6 2 6 6 6 6 5 5 7 3 6 6 6 4 6 1 7 6 2 6 7 5 7 6 6 5",
"6 6 1 2 4 7 4 6 5 1 8 6 0 7 5 2 6 5 2 6 7 5 6 4 5 3 7 8 6 6 1 4 8 3 6 7 6 0 6 5 7",
"4 6 0 2 3 0 0 6 7 1 7 0 0 1 7 2 6 7 3 6 6 1 6 1 0 2 9 6 1 4 0 3 3 0 7 0 5 4 5 6 0",
"5 5 1 2 4 6 4 5 6 5 7 1 1 7 8 6 1 6 6 7 6 5 4 6 4 7 6 7 1 0 4 2 7 2 7 4 7 4 8 7 6"];
const heat7=[
"6 6 3 3 2 6 5 6 2 1 6 6 2 4 5 7 3 2 6 6 5 8 4 0 7 7 6 6 5 6 1 2 6 2 4 1 3 2 6 0 6",
"4 3 0 5 7 0 3 2 0 6 4 2 0 0 1 1 3 2 6 2 6 7 6 0 6 6 2 4 1 4 2 2 0 1 3 6 2 6 7 0 1",
"4 5 7 4 1 2 6 4 1 5 3 4 6 3 6 6 3 3 7 6 4 5 7 4 5 6 6 5 7 4 3 4 6 4 3 5 5 7 2 1 2",
"5 6 4 1 3 5 6 4 5 2 7 4 5 3 6 3 3 5 2 4 0 3 1 6 6 6 6 6 6 6 4 6 4 3 a 6 6 2 3 1 3",
"6 a 1 0 5 0 3 6 1 7 6 0 1 4 7 1 6 2 8 2 0 4 3 1 2 3 4 4 3 7 4 2 6 6 2 8 8 8 2 1 2",
"6 6 6 6 6 2 6 5 5 4 4 5 6 4 6 4 4 3 4 6 5 4 6 4 2 6 3 6 6 7 4 4 7 3 2 2 6 6 4 4 6",
"6 4 2 5 4 6 3 2 2 4 6 1 3 6 4 5 6 5 5 0 3 1 2 3 4 5 2 2 6 6 1 6 3 6 4 5 7 3 4 1 3",
"5 3 4 6 6 6 4 7 6 6 5 6 4 1 5 6 3 5 6 5 b 3 6 3 2 4 3 6 5 6 4 4 7 5 5 2 4 6 5 5 5",
"1 8 1 4 5 1 4 0 2 6 1 5 0 1 1 3 0 0 2 3 0 6 6 6 5 4 6 5 8 2 2 2 7 1 3 7 6 6 1 0 1",
"2 2 4 3 4 6 5 7 4 6 3 6 7 5 2 6 6 6 6 2 7 6 1 3 6 0 4 6 2 6 6 5 6 6 6 6 5 6 5 4 2",
"6 4 8 6 6 4 6 6 4 7 6 2 5 6 4 4 6 5 7 6 3 7 4 4 6 5 4 4 6 6 4 5 3 5 3 7 1 6 5 6 6",
"3 7 1 4 5 2 2 4 1 8 6 2 1 6 5 1 2 6 5 4 0 6 5 2 5 5 4 3 4 2 3 3 1 2 3 6 6 8 7 1 3",
"7 5 2 0 4 6 2 0 8 0 0 0 0 2 1 2 0 2 1 1 0 3 0 7 0 1 6 0 0 0 0 7 1 0 1 0 4 1 0 3 8",
"2 6 0 4 6 5 0 6 6 6 5 6 6 6 2 5 3 3 6 1 6 6 6 4 5 3 5 3 1 1 7 3 6 5 6 b 6 6 4 0 1",
"3 6 0 1 6 1 1 4 6 6 6 0 1 2 2 3 4 2 7 1 1 3 1 6 3 2 4 6 6 6 4 2 3 2 0 6 6 6 1 0 0",
"6 6 6 4 3 6 6 3 6 5 5 6 1 3 6 6 6 5 4 5 5 5 1 5 2 5 6 5 5 6 6 2 2 6 2 2 5 3 6 6 6",
"1 4 1 6 4 3 2 3 4 7 2 1 4 6 3 6 9 2 6 2 3 5 5 4 2 5 4 1 2 1 6 5 3 2 1 8 0 4 6 6 2",
"3 4 0 6 5 3 3 4 6 6 6 5 4 4 5 7 6 8 5 3 2 4 4 5 5 6 7 2 2 4 5 9 6 5 7 6 6 5 6 8 5",
"1 6 2 3 7 1 2 7 6 8 5 2 6 5 5 7 6 7 6 2 4 6 7 6 4 4 5 5 1 1 7 5 4 4 4 b 4 6 6 6 1",
"6 6 1 6 6 4 3 3 3 5 6 1 6 5 6 4 3 3 6 4 1 6 6 4 3 6 1 3 4 5 2 4 3 0 4 5 6 6 2 6 5",
"1 6 0 6 5 4 0 6 6 7 6 3 6 7 6 2 2 4 6 1 2 b 7 1 4 3 1 0 0 4 6 5 2 3 0 5 5 6 6 8 2",
"6 8 0 6 6 6 1 3 2 2 3 5 5 5 4 5 4 2 8 3 6 3 a 6 1 3 2 3 3 6 5 4 4 5 2 7 7 6 3 4 4",
"6 6 1 0 6 6 2 3 7 4 4 8 2 7 2 0 5 3 2 1 0 3 3 6 1 6 4 4 3 3 6 3 0 0 6 5 1 3 2 5 4",
"3 8 1 6 8 4 1 2 6 8 6 2 2 6 6 6 1 a 6 4 1 4 4 7 4 5 5 3 5 1 4 7 2 2 8 4 7 7 6 3 4",
"6 7 2 6 6 5 5 6 3 4 5 1 4 1 6 9 6 6 6 6 5 5 6 7 6 3 5 4 5 6 4 6 4 5 6 5 6 6 2 6 5",
"5 6 1 6 6 4 2 6 6 4 6 5 6 6 5 6 3 7 6 2 4 6 7 6 6 5 5 2 4 6 4 6 2 3 6 5 6 6 6 6 6",
"6 7 1 6 8 2 6 6 5 4 4 4 9 6 4 8 2 8 5 3 0 4 b 7 2 a 2 7 2 8 1 a 6 1 7 2 6 7 7 a 4",
"0 6 0 0 0 0 0 1 4 0 0 6 0 6 0 0 0 0 1 0 0 0 0 6 0 0 1 6 6 0 0 6 0 0 5 0 0 0 4 3 1",
"7 4 2 7 6 6 4 2 6 5 6 4 6 7 4 8 6 6 5 4 6 5 5 5 0 7 2 5 4 a 6 4 8 6 6 0 7 6 3 7 6",
"5 4 1 6 8 6 3 5 7 6 3 6 5 6 3 8 1 3 6 6 1 5 6 8 5 6 2 3 2 1 6 7 4 1 8 1 4 6 8 6 5",
"6 3 0 0 6 7 0 1 7 0 4 8 0 7 5 8 0 6 1 1 6 6 5 4 0 4 1 0 3 3 0 7 0 0 7 0 0 1 1 7 7",
"7 6 1 1 7 2 1 2 6 4 2 1 1 5 6 8 2 8 6 1 0 7 6 9 1 6 2 2 3 8 1 6 3 2 8 0 4 8 7 6 3"];
const heat8=[
"6 6 6 6 2 5 1 3 5 1 6 1 4 3 6 1 6 6 0 6 3 0 6 6 3 0 5 5 7 0 0 4 6 1 3 6 3 2 3 2 3",
"6 6 2 8 1 7 3 2 5 6 3 4 6 6 6 5 8 3 2 5 2 1 1 2 5 0 a 1 6 1 4 2 3 0 6 6 6 5 1 2 2",
"4 3 4 4 4 5 5 4 6 3 5 4 1 3 5 6 6 3 3 6 2 6 3 7 8 4 3 3 4 5 6 7 6 3 7 3 3 6 6 4 4",
"5 7 6 2 3 2 6 5 3 4 4 1 8 3 3 7 9 5 5 b 6 4 5 6 4 5 2 3 4 5 7 3 6 8 7 6 3 5 6 3 6",
"7 6 5 2 6 7 6 1 2 6 6 2 1 0 3 7 3 3 4 0 3 2 5 3 7 1 6 4 1 4 6 4 2 6 5 1 3 5 5 5 3",
"0 2 4 5 6 3 5 6 4 7 5 6 5 4 6 4 6 6 3 6 6 6 6 3 5 1 5 5 6 4 4 6 6 0 6 5 1 4 5 7 6",
"6 5 6 5 2 0 2 2 3 6 2 6 6 3 4 5 2 3 3 3 1 3 6 5 3 3 0 3 1 6 2 0 4 3 5 6 1 2 0 3 4",
"5 5 6 4 6 4 0 6 7 6 7 6 6 5 4 3 3 6 4 5 1 5 4 4 6 4 6 7 3 0 7 4 5 3 4 5 4 4 6 4 6",
"1 6 2 2 0 4 6 6 4 2 0 5 4 2 2 7 8 0 4 1 1 6 2 6 7 5 1 3 5 3 6 1 5 1 5 3 1 7 7 5 3",
"6 4 5 6 0 6 6 1 4 5 5 1 6 3 5 5 5 3 7 0 6 6 3 6 6 7 2 4 4 7 6 3 1 3 2 3 6 6 6 5 2",
"3 6 6 6 6 5 5 6 4 5 5 5 4 5 6 5 3 6 1 3 5 6 6 2 5 2 7 9 7 4 4 5 4 a 6 5 6 6 3 6 1",
"0 2 7 4 7 7 6 5 7 2 6 3 4 5 6 6 6 6 0 4 6 6 5 9 6 3 9 2 6 2 6 5 7 7 8 5 1 3 4 7 4",
"3 6 6 0 1 6 1 6 0 0 4 1 0 6 0 0 0 7 0 5 1 1 6 3 4 0 6 6 4 0 1 5 0 0 2 2 2 4 7 6 1",
"6 6 4 5 3 8 6 2 3 6 4 7 7 6 6 7 6 0 4 3 4 4 2 7 6 1 4 6 6 6 6 6 1 6 6 1 5 6 6 6 0",
"2 2 4 2 2 2 6 1 1 3 1 2 1 4 3 7 5 1 0 6 3 2 0 0 3 1 6 0 1 1 6 4 6 6 7 1 1 5 4 6 7",
"6 4 6 4 6 1 6 4 3 6 2 4 1 2 5 1 1 4 3 6 3 1 4 1 5 5 2 2 5 1 4 2 6 1 4 6 4 5 4 6 6",
"2 6 6 6 6 7 7 4 4 6 4 6 6 7 6 6 4 2 2 3 3 6 2 1 6 3 4 6 6 6 7 3 3 6 6 5 1 6 3 5 1",
"5 8 4 3 7 6 7 2 6 a 5 3 4 6 2 4 6 4 2 3 7 3 5 6 4 2 5 b 4 7 3 6 2 3 6 4 4 4 6 5 3",
"3 7 6 5 5 8 5 2 4 6 6 3 6 6 4 6 3 3 6 2 6 4 2 6 4 2 6 6 6 6 7 7 1 7 5 1 4 6 1 6 0",
"3 4 2 6 5 5 6 6 5 6 6 3 6 4 6 7 5 4 7 4 5 6 3 3 6 3 5 5 0 3 6 6 6 6 6 4 4 2 5 6 4",
"0 6 6 6 a 6 7 1 3 5 2 7 3 9 5 7 6 4 0 2 7 3 1 6 6 4 6 6 3 5 5 6 3 5 6 1 0 2 3 6 2",
"2 2 3 2 5 6 6 1 1 6 3 9 7 6 5 7 0 3 3 6 2 5 2 4 6 2 4 3 4 1 4 5 5 4 6 2 2 4 4 7 6",
"4 8 4 3 6 4 3 2 5 6 6 2 b 5 1 6 2 5 6 6 6 7 6 9 2 3 6 6 4 1 2 5 3 0 3 6 3 5 6 8 3",
"2 7 3 3 2 5 9 7 5 6 3 6 6 6 1 9 6 3 6 0 3 3 6 3 4 6 3 6 6 6 2 5 6 6 7 5 2 6 4 7 6",
"6 6 5 3 3 4 7 4 5 2 6 4 9 3 2 8 3 2 1 4 4 5 6 4 7 3 4 6 8 6 4 2 3 2 5 5 2 6 5 6 5",
"6 7 4 3 6 6 6 6 6 4 3 3 6 7 2 7 6 2 1 2 6 2 6 7 6 2 6 b 4 3 2 6 3 3 7 4 2 5 2 6 6",
"5 8 1 4 8 7 7 7 6 9 4 4 6 4 2 9 3 5 1 6 9 6 3 5 5 6 2 7 6 7 4 3 4 6 6 3 5 7 2 3 2",
"0 6 1 0 6 0 1 0 1 1 0 0 0 0 0 0 2 0 0 0 1 3 1 6 0 2 0 1 2 0 1 6 3 0 6 2 0 6 6 0 0",
"2 3 5 4 6 2 6 5 3 4 5 6 4 3 4 4 1 6 4 8 6 6 4 1 3 6 6 2 2 6 6 8 4 4 6 6 5 5 4 6 2",
"1 7 4 3 6 7 8 7 4 7 6 5 6 6 2 6 4 3 3 6 7 2 5 3 3 7 5 7 7 0 5 9 2 1 7 7 2 6 2 1 5",
"0 9 6 1 6 1 3 6 1 0 4 0 6 1 1 1 0 6 0 5 1 2 7 3 0 0 a b 6 0 1 0 2 6 6 7 0 6 6 3 0",
"1 5 2 1 6 6 6 6 3 8 3 3 1 1 0 8 1 4 1 6 5 6 2 0 4 7 4 4 6 7 7 5 4 1 7 4 0 6 2 8 3"];
const heat9=["627537","463b73","436652","442174","764162","665726","152501","624435","8436b4","250264","428326","658825","656001","3844a4","361371","436326","667666","666596","337482","444625","566761","361753","666135","646686","642644","546766","38a744","166020","367326","658345","43b366","545214"];

const runs=[heat0,heat1,heat2,heat3,heat4,heat5,heat6,heat7,heat8,heat9];
const idRuns=[ids0,ids1,ids2,ids3,ids4,ids5,ids6,ids7,ids8,ids9];
const sampleNames=idRuns.join(' ').split(' ').map(s=>'TCGA-'+s+(s.split('-').length>2?'':'-01A'));
const indexes=sampleNames.map((_,i)=>i);

const levelColors=['#4000A6','#2200CC','#6B55EE','#8888FF','#C4BEFF','#D8D8FF','#FFC0E2','#FF8888','#FF6F88','#FF5555','#EE4040','#DD1100'];
const GRAY=12,YELLOW=13;

const cells=[];
let off=0;
runs.forEach(run=>{
  let width=0;
  run.forEach((row,r)=>{
    const s=row.replace(/\s/g,'');
    width=Math.max(width,s.length);
    for(let c=0;c<s.length;c++) cells.push([off+c,r,parseInt(s[c],36)]);
  });
  off+=width;
});
const bandCells=indexes.map(i=>[i,0,i<groupSizes[0]?GRAY:YELLOW]);

const S=4096/4593, L=0.3, W=4500*S, gapTop=106*S, heatTop=131.3*S, heatH=384*S;
const chart=echarts.init(document.getElementById('c'),null,{renderer:'canvas'});
chart.setOption({
  animation:false,
  backgroundColor:'#fff',
  visualMap:{type:'piecewise',show:false,dimension:2,seriesIndex:[0,1],
    pieces:levelColors.map((c,i)=>({value:i,color:c})).concat([{value:GRAY,color:'#C0C0C0'},{value:YELLOW,color:'#FFC800'}])},
  grid:[
    {left:L,top:heatTop,width:W,height:heatH},
    {left:L,top:0,width:W,height:gapTop},
    {left:L,top:gapTop,width:W,height:heatTop-gapTop}
  ],
  xAxis:[
    {type:'category',gridIndex:0,data:indexes,show:false},
    {type:'category',gridIndex:1,data:sampleNames,z:10,axisTick:{show:false},axisLine:{show:false},
      axisLabel:{inside:true,rotate:90,interval:0,margin:2,fontFamily:'Liberation Mono',fontSize:9,color:'#000'}},
    {type:'category',gridIndex:2,data:indexes,axisTick:{show:false},axisLine:{show:false},axisLabel:{show:false},
      splitLine:{show:true,interval:0,lineStyle:{color:'#000',width:1}}}
  ],
  yAxis:[
    {type:'category',gridIndex:0,data:genes,inverse:true,position:'right',
      axisLine:{show:true,lineStyle:{color:'#000'}},
      axisTick:{show:true,length:83,lineStyle:{color:'#000'}},
      axisLabel:{interval:0,margin:8,padding:[6,0,0,0],fontFamily:'Liberation Mono',fontSize:9,color:'#000'}},
    {type:'category',gridIndex:1,data:['band'],show:false},
    {type:'category',gridIndex:2,data:['SampleName'],position:'right',
      axisTick:{show:false},axisLine:{show:false},
      axisLabel:{margin:8,fontFamily:'Liberation Mono',fontSize:12,color:'#000'}}
  ],
  series:[
    {type:'heatmap',xAxisIndex:0,yAxisIndex:0,data:cells,progressive:0,
      itemStyle:{borderColor:'#000',borderWidth:1},emphasis:{disabled:true}},
    {type:'heatmap',xAxisIndex:1,yAxisIndex:1,data:bandCells,progressive:0,emphasis:{disabled:true}}
  ]
});
</script></body></html>
